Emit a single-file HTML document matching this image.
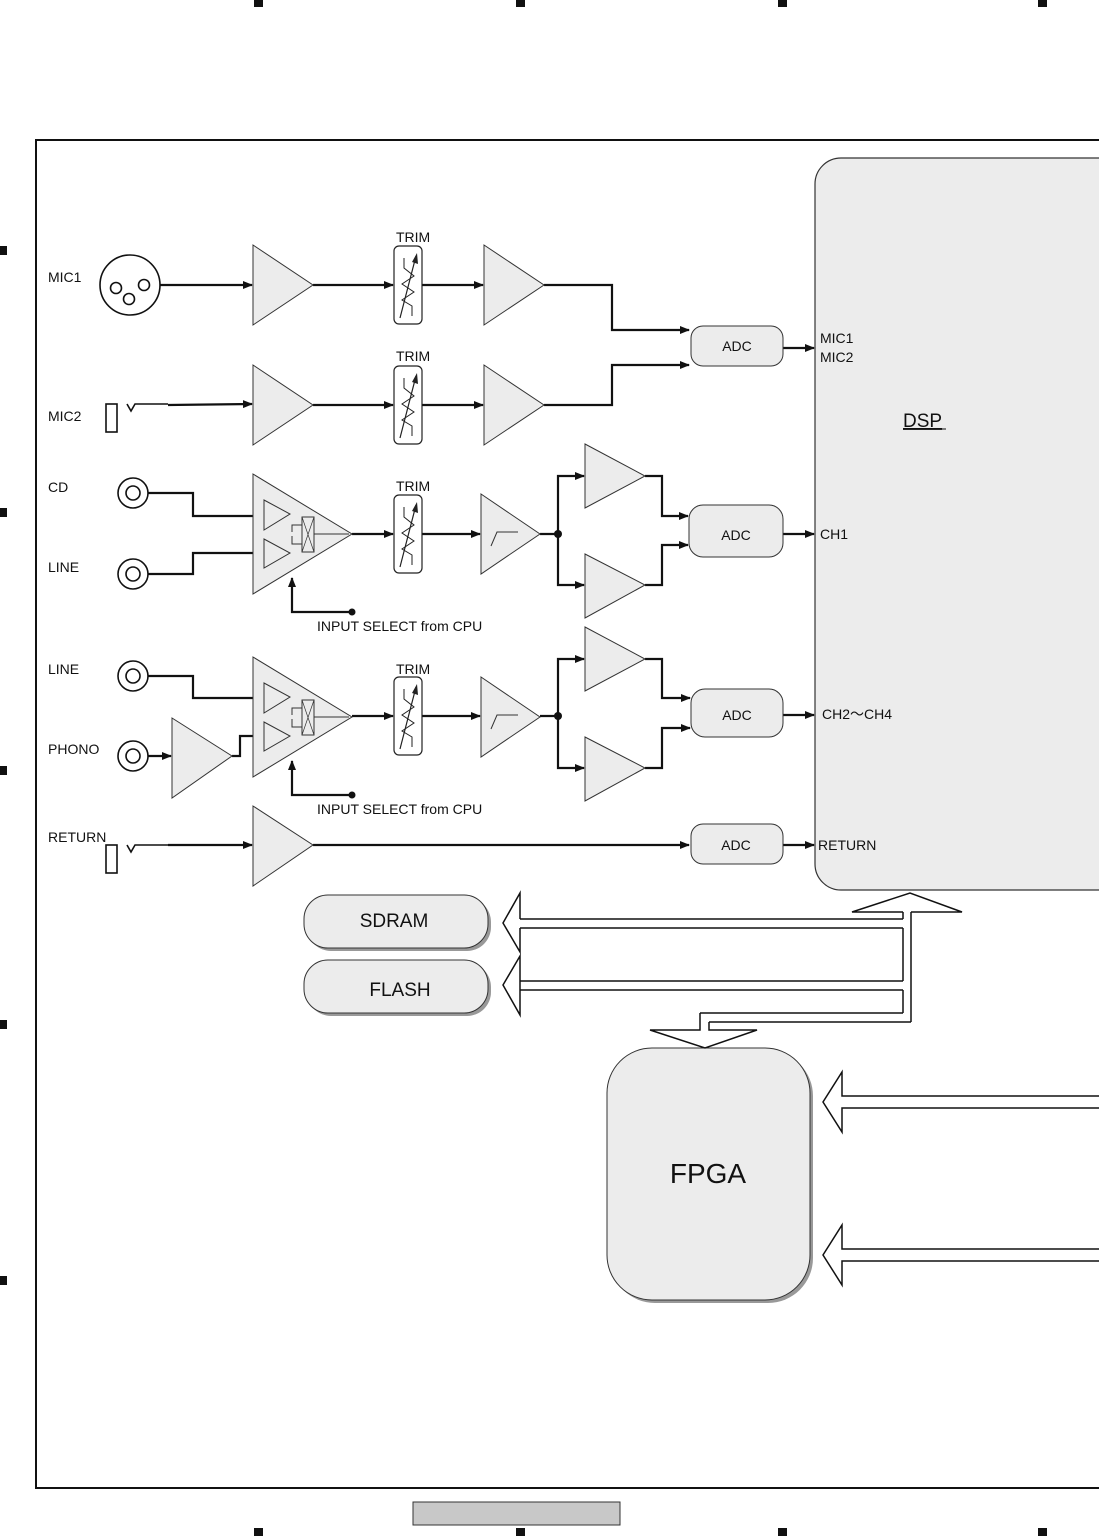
<!DOCTYPE html>
<html><head><meta charset="utf-8"><style>
html,body{margin:0;padding:0;background:#fff}
svg{display:block}
text{font-family:"Liberation Sans",sans-serif;fill:#111}
</style></head><body>
<svg width="1099" height="1536" viewBox="0 0 1099 1536" xmlns="http://www.w3.org/2000/svg">
<defs>
<marker id="a" markerWidth="10" markerHeight="8" refX="9" refY="4" orient="auto" markerUnits="userSpaceOnUse">
<path d="M0,0 L10,4 L0,8 Z" fill="#111"/></marker>
<g id="trim">
<rect x="0" y="0" width="28" height="78" rx="5" fill="#fff" stroke="#222" stroke-width="1.2"/>
<path d="M10,12 V22 L20,30 L8,38 L20,46 L8,54 L18,60 V70" fill="none" stroke="#222" stroke-width="1"/>
<line x1="6" y1="72" x2="22" y2="10" stroke="#222" stroke-width="1.2"/>
<path d="M18,16 L23,7 L24,18 Z" fill="#222"/>
</g>
<g id="sel">
<polygon points="0,0 99,60 0,120" fill="#ececec" stroke="#333" stroke-width="1"/>
<polygon points="11,26 37,40 11,56" fill="#ececec" stroke="#333" stroke-width="1"/>
<polygon points="11,65 37,79 11,94" fill="#ececec" stroke="#333" stroke-width="1"/>
<rect x="49" y="43" width="12" height="35" fill="none" stroke="#333" stroke-width="1"/>
<path d="M49,43 L61,78 M61,43 L49,78" stroke="#333" stroke-width="0.7"/>
<path d="M39,58 V51 H49 M39,62 V70 H49 M61,60 H96" fill="none" stroke="#333" stroke-width="1"/>
</g>
<g id="filt">
<polygon points="0,0 59,40 0,80" fill="#ececec" stroke="#333" stroke-width="1"/>
<path d="M10,52 L16,38 H37" fill="none" stroke="#333" stroke-width="1"/>
</g>
</defs>

<!-- corner marks -->
<g fill="#111">
<rect x="254" y="0" width="9" height="7"/><rect x="516" y="0" width="9" height="7"/><rect x="778" y="0" width="9" height="7"/><rect x="1038" y="0" width="9" height="7"/>
<rect x="254" y="1528" width="9" height="8"/><rect x="516" y="1528" width="9" height="8"/><rect x="778" y="1528" width="9" height="8"/><rect x="1038" y="1528" width="9" height="8"/>
<rect x="0" y="246" width="7" height="9"/><rect x="0" y="508" width="7" height="9"/><rect x="0" y="766" width="7" height="9"/><rect x="0" y="1020" width="7" height="9"/><rect x="0" y="1276" width="7" height="9"/>
</g>
<rect x="413" y="1502" width="207" height="23" fill="#c8c8c8" stroke="#333" stroke-width="1"/>

<!-- frame -->
<path d="M1100,140 H36 V1488 H1100" fill="none" stroke="#111" stroke-width="2"/>

<!-- DSP -->
<rect x="815" y="158" width="320" height="732" rx="26" fill="#ececec" stroke="#333" stroke-width="1.2"/>
<text x="903" y="427" font-size="19" text-decoration="underline">DSP</text>
<line x1="903" y1="429" x2="946" y2="429" stroke="#111" stroke-width="1"/>

<g stroke="#111" stroke-width="2.2" fill="none">
<!-- MIC1 -->
<line x1="160" y1="285" x2="252" y2="285" marker-end="url(#a)"/>
<line x1="313" y1="285" x2="393" y2="285" marker-end="url(#a)"/>
<line x1="422" y1="285" x2="483" y2="285" marker-end="url(#a)"/>
<path d="M544,285 H612 V330 H689" marker-end="url(#a)"/>
<line x1="783" y1="348" x2="814" y2="348" marker-end="url(#a)"/>
<!-- MIC2 -->
<line x1="168" y1="405" x2="252" y2="404" marker-end="url(#a)"/>
<line x1="313" y1="405" x2="393" y2="405" marker-end="url(#a)"/>
<line x1="422" y1="405" x2="483" y2="405" marker-end="url(#a)"/>
<path d="M544,405 H612 V365 H689" marker-end="url(#a)"/>
<!-- CD/LINE -->
<path d="M148,493 H193 V516 H262" marker-end="url(#a)"/>
<path d="M148,574 H193 V553 H262" marker-end="url(#a)"/>
<path d="M352,612 H292 V578" marker-end="url(#a)"/>
<line x1="352" y1="534" x2="393" y2="534" marker-end="url(#a)"/>
<line x1="422" y1="534" x2="480" y2="534" marker-end="url(#a)"/>
<path d="M540,534 H558 M558,534 V476 H584" marker-end="url(#a)"/>
<path d="M558,534 V585 H584" marker-end="url(#a)"/>
<path d="M645,476 H662 V516 H688" marker-end="url(#a)"/>
<path d="M645,585 H662 V545 H688" marker-end="url(#a)"/>
<line x1="783" y1="534" x2="814" y2="534" marker-end="url(#a)"/>
<!-- LINE/PHONO -->
<path d="M148,676 H193 V698 H262" marker-end="url(#a)"/>
<line x1="148" y1="756" x2="171" y2="756" marker-end="url(#a)"/>
<path d="M232,756 H240 V736 H262" marker-end="url(#a)"/>
<path d="M352,795 H292 V761" marker-end="url(#a)"/>
<line x1="352" y1="716" x2="393" y2="716" marker-end="url(#a)"/>
<line x1="422" y1="716" x2="480" y2="716" marker-end="url(#a)"/>
<path d="M540,716 H558 M558,716 V659 H584" marker-end="url(#a)"/>
<path d="M558,716 V768 H584" marker-end="url(#a)"/>
<path d="M645,659 H662 V698 H690" marker-end="url(#a)"/>
<path d="M645,768 H662 V728 H690" marker-end="url(#a)"/>
<line x1="783" y1="715" x2="814" y2="715" marker-end="url(#a)"/>
<!-- RETURN -->
<line x1="168" y1="845" x2="252" y2="845" marker-end="url(#a)"/>
<line x1="313" y1="845" x2="689" y2="845" marker-end="url(#a)"/>
<line x1="783" y1="845" x2="814" y2="845" marker-end="url(#a)"/>
</g>
<g fill="#111"><circle cx="352" cy="612" r="3.5"/><circle cx="352" cy="795" r="3.5"/><circle cx="558" cy="534" r="4"/><circle cx="558" cy="716" r="4"/></g>

<!-- connectors -->
<g fill="#fff" stroke="#111" stroke-width="1.6">
<circle cx="130" cy="285" r="30"/>
<circle cx="116" cy="288" r="5.5"/><circle cx="144" cy="285" r="5.5"/><circle cx="129" cy="299" r="5.5"/>
<circle cx="133" cy="493" r="15"/><circle cx="133" cy="493" r="7"/>
<circle cx="133" cy="574" r="15"/><circle cx="133" cy="574" r="7"/>
<circle cx="133" cy="676" r="15"/><circle cx="133" cy="676" r="7"/>
<circle cx="133" cy="756" r="15"/><circle cx="133" cy="756" r="7"/>
<rect x="106" y="404" width="11" height="28"/>
<rect x="106" y="845" width="11" height="28"/>
<path d="M127,404 L131,411 L135,404 H168" fill="none"/>
<path d="M127,845 L131,852 L135,845 H168" fill="none"/>
</g>

<!-- amps -->
<g fill="#ececec" stroke="#333" stroke-width="1">
<polygon points="253,245 313,285 253,325"/><polygon points="484,245 544,285 484,325"/>
<polygon points="253,365 313,405 253,445"/><polygon points="484,365 544,405 484,445"/>
<polygon points="585,444 645,476 585,508"/><polygon points="585,554 645,585 585,618"/>
<polygon points="585,627 645,659 585,691"/><polygon points="585,737 645,768 585,801"/>
<polygon points="172,718 232,756 172,798"/>
<polygon points="253,806 313,845 253,886"/>
</g>
<use href="#sel" x="253" y="474"/><use href="#sel" x="253" y="657"/>
<use href="#filt" x="481" y="494"/><use href="#filt" x="481" y="677"/>
<use href="#trim" x="394" y="246"/><use href="#trim" x="394" y="366"/><use href="#trim" x="394" y="495"/><use href="#trim" x="394" y="677"/>

<!-- ADCs -->
<g fill="#ececec" stroke="#333" stroke-width="1">
<rect x="691" y="326" width="92" height="40" rx="12"/>
<rect x="689" y="505" width="94" height="52" rx="14"/>
<rect x="691" y="689" width="92" height="48" rx="14"/>
<rect x="691" y="824" width="92" height="40" rx="12"/>
</g>
<g font-size="14" text-anchor="middle">
<text x="737" y="351">ADC</text><text x="736" y="540">ADC</text><text x="737" y="720">ADC</text><text x="736" y="850">ADC</text>
</g>

<!-- labels -->
<g font-size="14">
<text x="48" y="282">MIC1</text><text x="48" y="421">MIC2</text>
<text x="48" y="492">CD</text><text x="48" y="572">LINE</text>
<text x="48" y="674">LINE</text><text x="48" y="754">PHONO</text>
<text x="48" y="842">RETURN</text>
<text x="396" y="242">TRIM</text><text x="396" y="361">TRIM</text><text x="396" y="491">TRIM</text><text x="396" y="674">TRIM</text>
<text x="317" y="631">INPUT SELECT from CPU</text><text x="317" y="814">INPUT SELECT from CPU</text>
<text x="820" y="343">MIC1</text><text x="820" y="362">MIC2</text>
<text x="820" y="539">CH1</text>
<text x="822" y="719" font-family="Liberation Sans,'Noto Sans CJK JP',sans-serif">CH2～CH4</text>
<text x="818" y="850">RETURN</text>
</g>

<!-- SDRAM / FLASH -->
<g fill="#999"><rect x="307" y="898" width="184" height="53" rx="24"/><rect x="307" y="963" width="184" height="53" rx="24"/><rect x="610" y="1051" width="203" height="252" rx="45"/></g>
<g fill="#ececec" stroke="#333" stroke-width="1">
<rect x="304" y="895" width="184" height="53" rx="24"/>
<rect x="304" y="960" width="184" height="53" rx="24"/>
<rect x="607" y="1048" width="203" height="252" rx="45"/>
</g>
<text x="394" y="927" font-size="19" text-anchor="middle">SDRAM</text>
<text x="400" y="996" font-size="19" text-anchor="middle">FLASH</text>
<text x="708" y="1183" font-size="28" text-anchor="middle">FPGA</text>

<!-- bus -->
<g fill="none" stroke="#111" stroke-width="1.5">
<polyline points="903,912 852,912 910,893 962,912 911,912"/>
<line x1="911" y1="912" x2="911" y2="1022"/>
<line x1="903" y1="912" x2="903" y2="919"/>
<line x1="903" y1="928" x2="903" y2="981"/>
<line x1="903" y1="990" x2="903" y2="1013"/>
<line x1="520" y1="919" x2="903" y2="919"/>
<line x1="520" y1="928" x2="903" y2="928"/>
<line x1="520" y1="981" x2="903" y2="981"/>
<line x1="520" y1="990" x2="903" y2="990"/>
<line x1="700" y1="1013" x2="903" y2="1013"/>
<line x1="709" y1="1022" x2="911" y2="1022"/>
<polyline points="520,919 520,893 503,923 520,952 520,928"/>
<polyline points="520,990 520,956 503,985 520,1015 520,981"/>
<polyline points="700,1013 700,1030 650,1030 705,1048 757,1030 709,1030 709,1022"/>
<polyline points="1100,1096 842,1096 842,1072 823,1102 842,1132 842,1108 1100,1108"/>
<polyline points="1100,1249 842,1249 842,1225 823,1255 842,1285 842,1261 1100,1261"/>
</g>
</svg>
</body></html>
